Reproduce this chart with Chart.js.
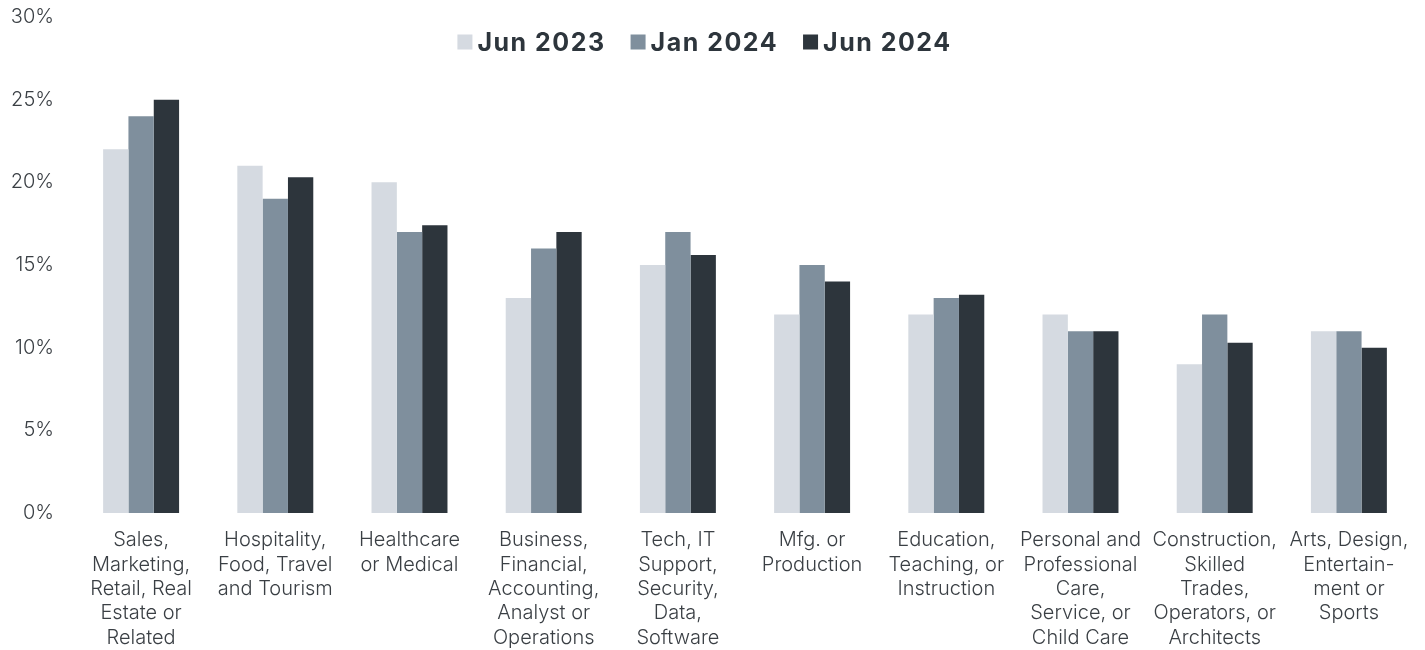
<!DOCTYPE html>
<html>
<head>
<meta charset="utf-8">
<script src="https://cdn.jsdelivr.net/npm/chart.js@4.4.1/dist/chart.umd.min.js"></script>
<style>
  html, body { margin: 0; padding: 0; background: #fff; }
  #wrap { width: 1425px; height: 650px; position: relative; }
</style>
</head>
<body>
<div id="wrap"><canvas id="sectors"></canvas></div>
<script>
const categories = [
  ["Sales,", "Marketing,", "Retail, Real", "Estate or", "Related"],
  ["Hospitality,", "Food, Travel", "and Tourism"],
  ["Healthcare", "or Medical"],
  ["Business,", "Financial,", "Accounting,", "Analyst or", "Operations"],
  ["Tech, IT", "Support,", "Security,", "Data,", "Software"],
  ["Mfg. or", "Production"],
  ["Education,", "Teaching, or", "Instruction"],
  ["Personal and", "Professional", "Care,", "Service, or", "Child Care"],
  ["Construction,", "Skilled", "Trades,", "Operators, or", "Architects"],
  ["Arts, Design,", "Entertain-", "ment or", "Sports"]
];

const jun2023 = [22, 21, 20, 13, 15, 12, 12, 12, 9, 11];
const jan2024 = [24, 19, 17, 16, 17, 15, 13, 11, 12, 11];
const jun2024 = [25, 20.3, 17.4, 17, 15.6, 14, 13.2, 11, 10.3, 10];

const seriesNames = ["Jun 2023", "Jan 2024", "Jun 2024"];
const seriesColors = ["#d5dae1", "#7f8f9d", "#2d353c"];

const yTicks = [0, 5, 10, 15, 20, 25, 30];

const textColor = "#3a3f44";

// legend sits inside the plot, above the bars
const insideLegend = {
  id: "insideLegend",
  afterDraw(chart) {
    const ctx = chart.ctx;
    const items = chart.data.datasets;
    ctx.save();
    ctx.font = "bold 25px Inter";
    ctx.letterSpacing = "1.5px";
    ctx.textBaseline = "middle";
    const box = 15, gapBox = 5, gapItem = 25;
    const widths = items.map(d => ctx.measureText(d.label).width);
    let total = 0;
    widths.forEach((w, i) => { total += box + gapBox + w + (i < widths.length - 1 ? gapItem : 0); });
    let x = chart.width / 2 - 8 - total / 2;
    const y = 42;
    items.forEach((d, i) => {
      ctx.fillStyle = d.backgroundColor;
      ctx.fillRect(x, y - box / 2, box, box);
      x += box + gapBox;
      ctx.fillStyle = "#2d353c";
      ctx.fillText(d.label, x, y + 1);
      x += widths[i] + gapItem;
    });
    ctx.restore();
  }
};

const ctx = document.getElementById("sectors").getContext("2d");
new Chart(ctx, {
  type: "bar",
  data: {
    labels: categories,
    datasets: [jun2023, jan2024, jun2024].map((vals, i) => ({
      label: seriesNames[i],
      data: vals,
      backgroundColor: seriesColors[i],
      borderWidth: 0,
      barPercentage: 1,
      categoryPercentage: 0.566
    }))
  },
  options: {
    responsive: true,
    maintainAspectRatio: false,
    animation: false,
    layout: { autoPadding: false, padding: { left: 10, right: 9, top: 17, bottom: 0 } },
    plugins: {
      legend: { display: false },
      tooltip: { enabled: false }
    },
    scales: {
      x: {
        afterFit(scale) {
          scale.height = 137;
          scale.paddingLeft = 0;
          scale.paddingRight = 0;
        },
        grid: { display: false, drawTicks: false },
        border: { display: false },
        ticks: {
          color: textColor,
          font: { family: "Inter", size: 20, weight: 300, lineHeight: 1.22 },
          padding: 15,
          maxRotation: 0,
          autoSkip: false
        }
      },
      y: {
        min: yTicks[0],
        max: yTicks[yTicks.length - 1],
        afterBuildTicks(scale) {
          scale.ticks = yTicks.map(v => ({ value: v }));
        },
        afterFit(scale) {
          scale.width = 64;
          scale.paddingTop = 0;
          scale.paddingBottom = 0;
        },
        grid: { display: false, drawTicks: false },
        border: { display: false },
        ticks: {
          color: textColor,
          font: { family: "Inter", size: 20, weight: 300 },
          padding: 20,
          callback: v => v + "%"
        }
      }
    }
  },
  plugins: [insideLegend]
});
</script>
</body>
</html>
